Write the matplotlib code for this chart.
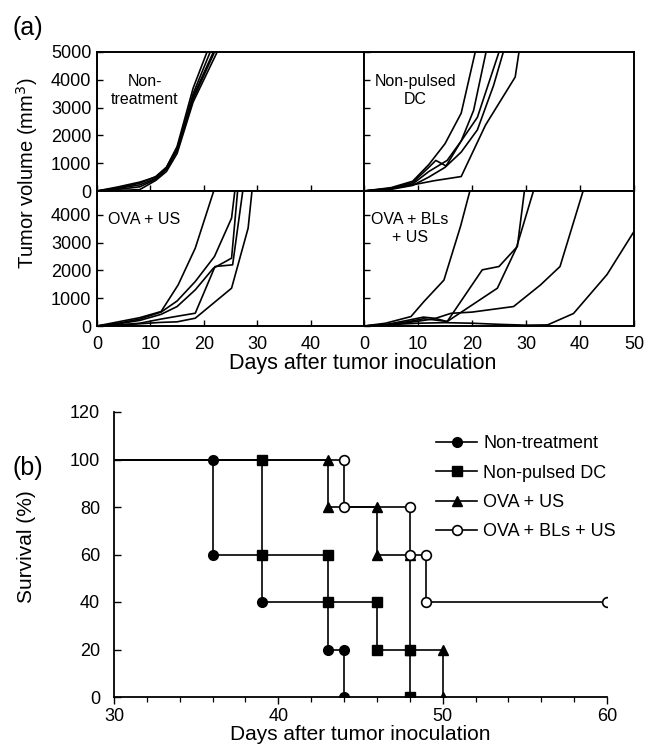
import matplotlib
matplotlib.use("Agg")
import matplotlib.pyplot as plt
from matplotlib.ticker import MultipleLocator

plt.rcParams['font.family'] = ['Liberation Sans', 'DejaVu Sans']

# ---------------- Panel (a): tumor growth curves (5 mice per group) ----------------
nontreat_days = [[0, 4, 8, 11, 13, 15, 18, 20.6],
                 [0, 4, 8, 11, 13, 15, 18, 21.2],
                 [0, 4, 8, 11, 13, 15, 18, 21.8],
                 [0, 4, 8, 11, 13, 15, 18, 22.5],
                 [0, 4, 8, 11, 13, 15, 18, 22.0]]
nontreat_vol = [[0, 150, 320, 500, 850, 1600, 3700, 5000],
                [0, 100, 220, 450, 800, 1500, 3500, 5000],
                [0, 60, 150, 420, 780, 1450, 3400, 5000],
                [0, 20, 50, 380, 700, 1350, 3200, 5000],
                [0, 120, 280, 520, 850, 1550, 3300, 5000]]

dc_days = [[0, 5, 9, 12, 15, 18, 20.6],
           [0, 5, 9, 12, 13.3, 15.2, 18, 20.3, 22.6],
           [0, 5, 9, 12, 15.4, 18, 21, 25],
           [0, 5, 9, 12, 15, 18, 21, 24, 25.8],
           [0, 5, 9, 13, 18, 22.5, 28, 28.7]]
dc_vol = [[0, 120, 350, 950, 1700, 2800, 5000],
          [0, 100, 300, 850, 1100, 900, 1800, 2900, 5000],
          [0, 80, 250, 700, 1100, 1800, 2650, 5000],
          [0, 60, 200, 500, 850, 1400, 2200, 3800, 5000],
          [0, 80, 220, 370, 520, 2370, 4100, 5000]]

ovaus_days = [[0, 4, 8, 12, 15.2, 18.4, 22.1],
              [0, 4, 8, 12, 15, 18.4, 22, 25.2, 25.9],
              [0, 4, 8, 12, 15, 18.4, 21.8, 25.2, 26.4],
              [0, 4, 8, 12, 15, 18.4, 22.1, 25.4, 27.4],
              [0, 4, 8, 12, 15, 18.4, 25.2, 28.3, 29.1]]
ovaus_vol = [[0, 150, 300, 520, 1480, 2800, 5000],
             [0, 100, 250, 500, 900, 1600, 2500, 3880, 5000],
             [0, 80, 200, 420, 700, 1300, 2080, 2440, 5000],
             [0, 40, 100, 250, 350, 460, 2140, 2200, 5000],
             [0, 30, 80, 130, 150, 280, 1360, 3520, 5000]]

ovabl_days = [[0, 4, 8.7, 11.1, 14.8, 17.9, 19.8],
              [0, 4, 8, 11, 13, 15.4, 21.9, 25, 28.4, 29.8],
              [0, 4, 8, 11, 13, 15.4, 24.7, 28.2, 31.6],
              [0, 4, 8, 11, 13, 16.1, 20, 27.7, 32.7, 36.3, 40.8],
              [0, 5, 10, 15, 20, 25, 30, 34, 38.8, 45, 50]]
ovabl_vol = [[0, 100, 340, 880, 1650, 3600, 5000],
             [0, 50, 200, 320, 280, 160, 2020, 2140, 2860, 5000],
             [0, 30, 150, 260, 220, 160, 1360, 2800, 5000],
             [0, 40, 120, 200, 260, 456, 500, 700, 1480, 2140, 5000],
             [0, 50, 100, 120, 100, 60, 30, 40, 450, 1850, 3400]]

panel_labels = ["Non-\ntreatment", "Non-pulsed\nDC", "OVA + US", "OVA + BLs\n+ US"]
vol_ticks_top = [0, 1000, 2000, 3000, 4000, 5000]
vol_ticks_bottom = [0, 1000, 2000, 3000, 4000]
day_ticks = [0, 10, 20, 30, 40, 50]

# ---------------- Panel (b): survival ----------------
nt_surv_days = [30, 36, 36, 39, 39, 43, 43, 44, 44]
nt_surv_pct = [100, 100, 60, 60, 40, 40, 20, 20, 0]
dc_surv_days = [30, 39, 39, 43, 43, 46, 46, 48, 48]
dc_surv_pct = [100, 100, 60, 60, 40, 40, 20, 20, 0]
ovaus_surv_days = [30, 43, 43, 46, 46, 48, 48, 50, 50]
ovaus_surv_pct = [100, 100, 80, 80, 60, 60, 20, 20, 0]
ovabl_surv_days = [30, 44, 44, 48, 48, 49, 49, 60]
ovabl_surv_pct = [100, 100, 80, 80, 60, 60, 40, 40]
surv_labels = ["Non-treatment", "Non-pulsed DC", "OVA + US", "OVA + BLs + US"]

W, H = 659, 752
fig = plt.figure(figsize=(W / 100, H / 100), dpi=100)

def fx(px):
    return px / W

def fy(py):
    return 1 - py / H

xl, xm, xr = 97, 364, 634
yt, ymid, yb = 52, 191, 326
ax_tl = fig.add_axes([fx(xl), fy(ymid), fx(xm - xl), (ymid - yt) / H])
ax_tr = fig.add_axes([fx(xm), fy(ymid), fx(xr - xm), (ymid - yt) / H])
ax_bl = fig.add_axes([fx(xl), fy(yb), fx(xm - xl), (yb - ymid) / H])
ax_br = fig.add_axes([fx(xm), fy(yb), fx(xr - xm), (yb - ymid) / H])

groups = [(ax_tl, nontreat_days, nontreat_vol), (ax_tr, dc_days, dc_vol),
          (ax_bl, ovaus_days, ovaus_vol), (ax_br, ovabl_days, ovabl_vol)]
ymax_bottom = 5000 * (yb - ymid) / (ymid - yt)
for i, (ax, dd, vv) in enumerate(groups):
    for d, v in zip(dd, vv):
        ax.plot(d, v, color='black', lw=1.2)
    ax.set_xlim(0, 50)
    if i < 2:
        ax.set_ylim(0, 5000)
        ax.set_yticks(vol_ticks_top)
    else:
        ax.set_ylim(0, ymax_bottom)
        ax.set_yticks(vol_ticks_bottom)
    ax.set_xticks(day_ticks)
    ax.tick_params(direction='in', length=4, width=1.0, labelsize=13, pad=4)
    for s in ax.spines.values():
        s.set_linewidth(1.4)
    if i % 2 == 1:
        ax.tick_params(labelleft=False)
    if i < 2:
        ax.tick_params(labelbottom=False)
    else:
        ax.tick_params(axis='x', pad=7)

ax_bl.set_xticklabels(['0', '10', '20', '30', '40', ''])

ax_tl.text(0.18, 0.72, panel_labels[0], transform=ax_tl.transAxes, ha='center', va='center',
           fontsize=11.5, linespacing=1.25)
ax_tr.text(0.19, 0.72, panel_labels[1], transform=ax_tr.transAxes, ha='center', va='center',
           fontsize=11.5, linespacing=1.25)
ax_bl.text(0.04, 0.79, panel_labels[2], transform=ax_bl.transAxes, ha='left', va='center',
           fontsize=11.5)
ax_br.text(0.17, 0.72, panel_labels[3], transform=ax_br.transAxes, ha='center', va='center',
           fontsize=11.5, linespacing=1.25)

fig.text(fx(27), fy(173), "Tumor volume (mm$^3$)", rotation=90, ha='center', va='center', fontsize=14.5)
fig.text(fx(363), fy(364), "Days after tumor inoculation", ha='center', va='center', fontsize=15.5)
fig.text(fx(12), fy(28), "(a)", ha='left', va='center', fontsize=18)
fig.text(fx(12), fy(468), "(b)", ha='left', va='center', fontsize=18)

# ---------------- Panel (b) ----------------
bx0, bx1, by0, by1 = 114, 607, 697, 412
axb = fig.add_axes([fx(bx0), fy(by0), fx(bx1 - bx0), (by0 - by1) / H])
lw = 1.2
ms = 7
axb.plot(nt_surv_days, nt_surv_pct, color='black', lw=lw, marker='o', ms=ms,
         markevery=slice(1, None), mfc='black', mec='black', label=surv_labels[0], zorder=3)
axb.plot(dc_surv_days, dc_surv_pct, color='black', lw=lw, marker='s', ms=ms - 0.5,
         markevery=slice(1, None), mfc='black', mec='black', label=surv_labels[1], zorder=4)
axb.plot(ovaus_surv_days, ovaus_surv_pct, color='black', lw=lw, marker='^', ms=ms + 0.5,
         markevery=slice(1, None), mfc='black', mec='black', label=surv_labels[2], zorder=3)
axb.plot(ovabl_surv_days, ovabl_surv_pct, color='black', lw=lw, marker='o', ms=ms,
         markevery=slice(1, None), mfc='white', mec='black', mew=1.2, label=surv_labels[3], zorder=5)
axb.set_xlim(30, 60)
axb.set_ylim(0, 120)
axb.xaxis.set_major_locator(MultipleLocator(10))
axb.xaxis.set_minor_locator(MultipleLocator(2))
axb.yaxis.set_major_locator(MultipleLocator(20))
axb.spines['top'].set_visible(False)
axb.spines['right'].set_visible(False)
for s in ['left', 'bottom']:
    axb.spines[s].set_linewidth(1.3)
axb.tick_params(axis='y', which='major', direction='in', length=5, width=1.0, labelsize=13, pad=10)
axb.tick_params(axis='x', which='major', direction='out', length=5, width=1.0, labelsize=13, pad=3)
axb.tick_params(axis='x', which='minor', direction='out', length=3.5, width=0.9)
axb.set_xlabel("Days after tumor inoculation", fontsize=15, labelpad=0)
fig.text(fx(27), fy(547), "Survival (%)", rotation=90, ha='center', va='center', fontsize=15)
leg = axb.legend(loc='upper left', bbox_to_anchor=(0.653, 0.918), frameon=False,
                 fontsize=13, handlelength=2.3, handletextpad=0.33, labelspacing=0.68,
                 borderpad=0, borderaxespad=0)

fig.savefig("out.png", dpi=100)
